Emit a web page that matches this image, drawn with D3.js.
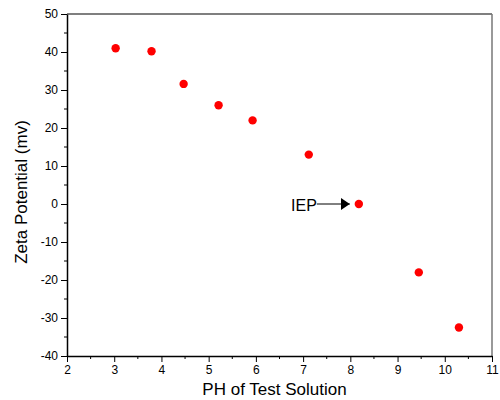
<!DOCTYPE html>
<html>
<head>
<meta charset="utf-8">
<script src="https://cdn.jsdelivr.net/npm/d3@7"></script>
<style>
  body { margin: 0; background: #fff; }
  svg { font-family: "Liberation Sans", Arial, sans-serif; }
</style>
</head>
<body>
<div id="wrapper"></div>
<script>
// data
const phValues = [3.03, 3.79, 4.47, 5.21, 5.93, 7.12, 8.18, 9.45, 10.3]
const zetaValues = [41, 40.2, 31.6, 26, 22, 13, 0, -18, -32.5]
const xTicks = [2, 3, 4, 5, 6, 7, 8, 9, 10, 11]
const yTicks = [-40, -30, -20, -10, 0, 10, 20, 30, 40, 50]
const iep = { x: 8.18, y: 0, label: "IEP" }

const data = phValues.map((x, i) => ({ x, y: zetaValues[i] }))

const dimensions = {
  width: 500,
  height: 400,
  margin: { top: 14, right: 8, bottom: 44, left: 67 },
}
dimensions.boundedWidth = dimensions.width - dimensions.margin.left - dimensions.margin.right
dimensions.boundedHeight = dimensions.height - dimensions.margin.top - dimensions.margin.bottom

const wrapper = d3.select("#wrapper")
  .append("svg")
  .attr("width", dimensions.width)
  .attr("height", dimensions.height)

const bounds = wrapper.append("g")
  .attr("transform", `translate(${dimensions.margin.left},${dimensions.margin.top})`)

const xScale = d3.scaleLinear()
  .domain([2, 11])
  .range([0, dimensions.boundedWidth])

const yScale = d3.scaleLinear()
  .domain([-40, 50])
  .range([dimensions.boundedHeight, 0])

// plain hyphen for negatives, like the original
const fmt = d => String(d)

// frame: top black, right grey
bounds.append("line")
  .attr("x1", 0).attr("x2", dimensions.boundedWidth)
  .attr("y1", 0).attr("y2", 0)
  .attr("stroke", "#000").attr("stroke-width", 1.2)
bounds.append("line")
  .attr("x1", dimensions.boundedWidth).attr("x2", dimensions.boundedWidth)
  .attr("y1", 0).attr("y2", dimensions.boundedHeight)
  .attr("stroke", "#777").attr("stroke-width", 1.5)

// minor ticks
const xMinor = d3.range(2.5, 11, 1)
const yMinor = d3.range(-35, 50, 10)

const xAxis = bounds.append("g")
  .attr("transform", `translate(0,${dimensions.boundedHeight})`)
  .call(d3.axisBottom(xScale).tickValues(xTicks).tickFormat(fmt)
    .tickSize(6).tickPadding(3).tickSizeOuter(0))
xAxis.selectAll(".minor")
  .data(xMinor)
  .join("line")
  .attr("class", "minor")
  .attr("x1", d => xScale(d)).attr("x2", d => xScale(d))
  .attr("y1", 0).attr("y2", 3)
  .attr("stroke", "#000")

const yAxis = bounds.append("g")
  .call(d3.axisLeft(yScale).tickValues(yTicks).tickFormat(fmt)
    .tickSize(6).tickPadding(3).tickSizeOuter(0))
yAxis.selectAll(".minor")
  .data(yMinor)
  .join("line")
  .attr("class", "minor")
  .attr("y1", d => yScale(d)).attr("y2", d => yScale(d))
  .attr("x1", 0).attr("x2", -3)
  .attr("stroke", "#000")

;[xAxis, yAxis].forEach(ax => {
  ax.select(".domain").attr("stroke-width", 1.5)
  ax.selectAll(".tick line").attr("stroke-width", 1)
  ax.selectAll(".tick text")
    .style("font-size", "12px")
    .attr("fill", "#000")
    .style("font-family", "'Liberation Sans', Arial, sans-serif")
})

// labels
xAxis.append("text")
  .attr("x", dimensions.boundedWidth / 2 - 5)
  .attr("y", 39)
  .attr("fill", "#000")
  .style("font-size", "17px")
  .style("text-anchor", "middle")
  .style("font-family", "'Liberation Sans', Arial, sans-serif")
  .text("PH of Test Solution")

yAxis.append("text")
  .attr("transform", "rotate(-90)")
  .attr("x", -(dimensions.boundedHeight / 2 + 7))
  .attr("y", -40)
  .attr("fill", "#000")
  .style("font-size", "17px")
  .style("text-anchor", "middle")
  .style("font-family", "'Liberation Sans', Arial, sans-serif")
  .text("Zeta Potential (mv)")

// points
bounds.selectAll("circle")
  .data(data)
  .join("circle")
  .attr("cx", d => xScale(d.x))
  .attr("cy", d => yScale(d.y))
  .attr("r", 4.2)
  .attr("fill", "#ff0000")

// IEP annotation
wrapper.append("defs").append("marker")
  .attr("id", "arrow")
  .attr("viewBox", "0 0 9 12")
  .attr("refX", 9).attr("refY", 6)
  .attr("markerWidth", 9).attr("markerHeight", 12)
  .attr("markerUnits", "userSpaceOnUse")
  .attr("orient", "auto")
  .append("path")
  .attr("d", "M0,0 L9,6 L0,12 Z")
  .attr("fill", "#000")

const ax = xScale(iep.x)
const ay = yScale(iep.y)
bounds.append("line")
  .attr("x1", ax - 42).attr("x2", ax - 9)
  .attr("y1", ay).attr("y2", ay)
  .attr("stroke", "#000").attr("stroke-width", 1)
  .attr("marker-end", "url(#arrow)")
bounds.append("text")
  .attr("x", ax - 42)
  .attr("y", ay + 7)
  .attr("fill", "#000")
  .style("text-anchor", "end")
  .style("font-size", "16px")
  .text(iep.label)
</script>
</body>
</html>
